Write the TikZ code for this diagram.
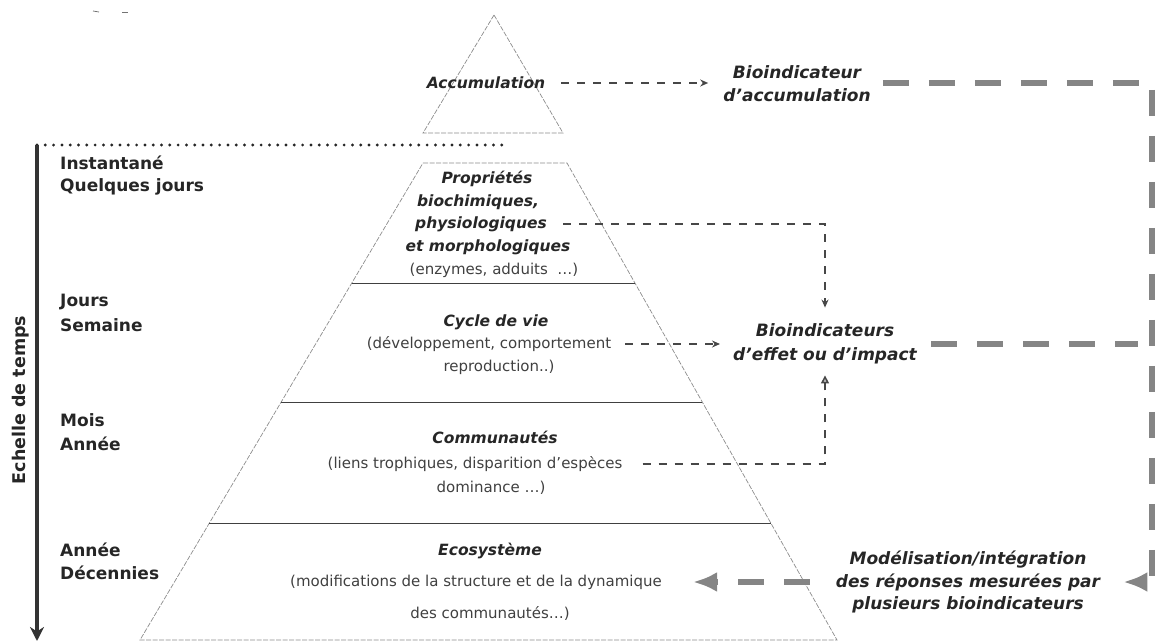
\documentclass[tikz,border=0pt]{standalone}
\usepackage{fontspec}
\setmainfont{DejaVu Sans}
\usetikzlibrary{arrows.meta}
\tikzset{
  lbl/.style={font=\fontsize{17}{24}\selectfont\bfseries, text=black!85, inner sep=0pt, anchor=west},
  ttl/.style={font=\fontsize{15.5}{22}\selectfont\bfseries\itshape, text=black!85, inner sep=0pt},
  sub/.style={font=\fontsize{15}{22}\selectfont, text=black!75, inner sep=0pt},
  bio/.style={font=\fontsize{17}{23}\selectfont\bfseries\itshape, text=black!85, align=center, inner sep=0pt},
  edge/.style={draw=black!45, line width=0.7pt, dash pattern=on 5pt off 1.5pt},
  level/.style={draw=black!75, line width=1pt},
  thinlink/.style={draw=black!72, line width=1.5pt, dash pattern=on 8pt off 8pt, -{Stealth[length=8pt,width=7pt]}},
  fatlink/.style={draw=black!48, line width=6.5pt, dash pattern=on 26pt off 20pt},
  fattip/.style={-{Latex[length=24pt,width=20pt]}}
}
\begin{document}
\begin{tikzpicture}[x=1pt,y=-1pt]
\useasboundingbox (0,0) rectangle (1157,642);
% scan marks
\draw[black!55, line width=0.8pt] (93,11) -- (99,12);
\draw[black!55, line width=0.8pt] (122,12) -- (128,12);
% top triangle
\draw[edge] (494,15) -- (563,133) -- (423,133) -- cycle;
% trapezoid
\draw[edge] (423,163) -- (567,163) -- (837,640) -- (140,640) -- cycle;
\draw[level] (351.8,283) -- (634.9,283);
\draw[level] (281.2,402) -- (702.3,402);
\draw[level] (209.4,523) -- (770.8,523);
% time axis
\draw[black!85, line width=3.2pt, line cap=round, dash pattern=on 0pt off 8.3pt] (37,145) -- (508,145);
\draw[black!80, line width=3.6pt, -{Stealth[length=14pt,width=14pt]}] (37,145) -- (37,641);
\node[font=\fontsize{17.5}{20}\selectfont\bfseries, text=black!85, rotate=90, inner sep=0pt] (axis) at (21,400) {Echelle de temps};
% left labels
\node[lbl] (t1) at (60,163) {Instantané};
\node[lbl] (t2) at (60,187) {Quelques jours};
\node[lbl] (t3) at (60,302) {Jours};
\node[lbl] (t4) at (60,325) {Semaine};
\node[lbl] (t5) at (60,420) {Mois};
\node[lbl] (t6) at (60,444) {Année};
\node[lbl] (t7) at (60,550) {Année};
\node[lbl] (t8) at (60,573) {Décennies};
% pyramid texts
\node[ttl] (acc) at (486,83) {Accumulation};
\node[ttl] (prop1) at (487,179) {Propriétés};
\node[ttl] (prop2) at (478,202) {biochimiques,};
\node[ttl] (prop3) at (481,224) {physiologiques};
\node[ttl] (prop4) at (488,247) {et morphologiques};
\node[sub] (prop5) at (494,270) {(enzymes, adduits \ \dots)};
\node[ttl] (cyc1) at (496,322) {Cycle de vie};
\node[sub] (cyc2) at (489,344) {(développement, comportement};
\node[sub] (cyc3) at (499,367) {reproduction..)};
\node[ttl] (com1) at (495,437) {Communautés};
\node[sub] (com2) at (475,464) {(liens trophiques, disparition d'espèces};
\node[sub] (com3) at (491,488) {dominance \dots)};
\node[ttl] (eco1) at (490,551) {Ecosystème};
\node[sub] (eco2) at (476,582) {(modifications de la structure et de la dynamique};
\node[sub] (eco3) at (490,613) {des communautés\dots)};
% right texts
\node[bio] (bioacc) at (797,84) {Bioindicateur\\d'accumulation};
\node[bio, font=\fontsize{17}{24}\selectfont\bfseries\itshape] (bioeff) at (825,344) {Bioindicateurs\\d'effet ou d'impact};
\node[bio, font=\fontsize{17}{22.5}\selectfont\bfseries\itshape] (model) at (968,582) {Modélisation/intégration\\des réponses mesurées par\\plusieurs bioindicateurs};
% corners of the big return path
\coordinate (c1) at (1152,83);
\coordinate (c2) at (1152,582);
% thin connectors
\draw[thinlink, shorten <=16pt, shorten >=15pt] (acc.east) -- (acc.east -| bioacc.west);
\draw[thinlink, shorten <=16pt, shorten >=16pt] (prop3.east) -| (bioeff.north);
\draw[thinlink, shorten <=14pt, shorten >=13pt] (cyc2.east) -- (bioeff.west);
\draw[thinlink, -{Triangle[length=8pt,width=8pt,fill=black!25]}, shorten <=20pt, shorten >=11pt] (com2.east) -| (bioeff.south);
% thick connectors
\draw[fatlink, fattip, shorten <=12pt, shorten >=23pt] (bioacc.east |- c1) -- (c1) -- (c2) -- (model.east);
\draw[fatlink, shorten <=14pt, shorten >=14pt] (bioeff.east) -- (bioeff.east -| c1);
\draw[fatlink, fattip, shorten <=26pt, shorten >=31pt] (model.west) -- (model.west -| eco2.east);
\end{tikzpicture}
\end{document}
